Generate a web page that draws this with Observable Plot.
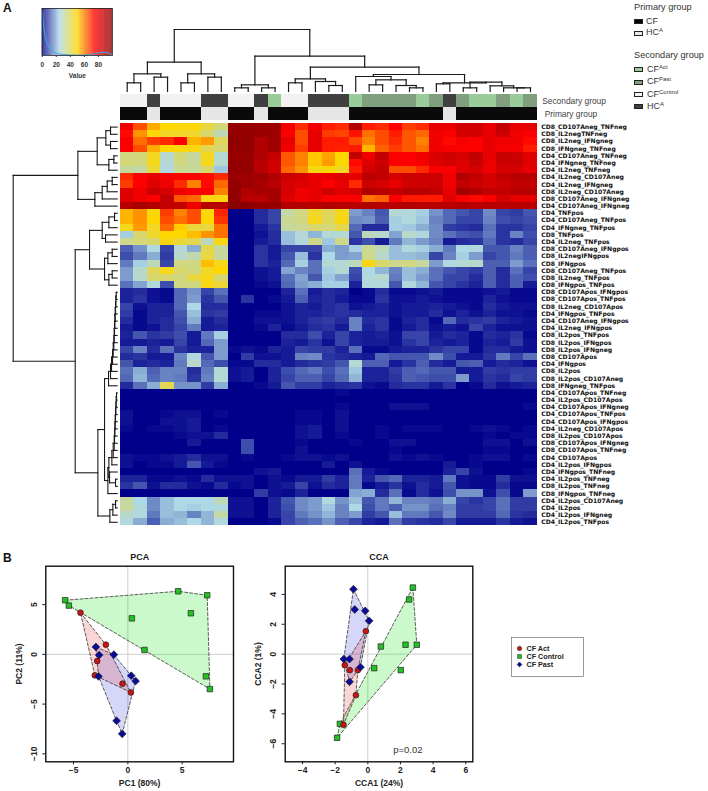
<!DOCTYPE html>
<html><head><meta charset="utf-8">
<script src="https://cdn.jsdelivr.net/npm/d3@7"></script>
<script src="https://cdn.jsdelivr.net/npm/@observablehq/plot@0.6"></script>
<style>
html,body{margin:0;padding:0;background:#fff;}
#page{position:relative;width:708px;height:791px;overflow:hidden;font-family:"Liberation Sans",Arial,sans-serif;color:#222;}
.p{position:absolute;}
.p svg{overflow:visible;display:block;}
.t{position:absolute;white-space:nowrap;line-height:1;}
.t sup{font-size:6px;line-height:0;vertical-align:3px;}
.sw{position:absolute;width:9px;height:5px;border:1px solid #222;box-sizing:border-box;}
.soft g[aria-label="cell"]{filter:blur(0.5px);}
</style></head><body><div id="page"></div>
<script>
const rowNames=["CD8_CD107Aneg_TNFneg","CD8_IL2negTNFneg","CD8_IL2neg_IFNgneg","CD8_IFNgneg_TNFneg","CD4_CD107Aneg_TNFneg","CD4_IFNgneg_TNFneg","CD4_IL2neg_TNFneg","CD4_IL2neg_CD107Aneg","CD4_IL2neg_IFNgneg","CD8_IL2neg_CD107Aneg","CD8_CD107Aneg_IFNgneg","CD4_CD107Aneg_IFNgneg","CD4_TNFpos","CD4_CD107Aneg_TNFpos","CD4_IFNgneg_TNFpos","CD8_TNFpos","CD4_IL2neg_TNFpos","CD8_CD107Aneg_IFNgpos","CD8_IL2negIFNgpos","CD8_IFNgpos","CD8_CD107Aneg_TNFpos","CD8_IL2neg_TNFpos","CD8_IFNgpos_TNFpos","CD8_CD107Apos_IFNgpos","CD8_CD107Apos_TNFpos","CD8_IL2neg_CD107Apos","CD4_IFNgpos_TNFpos","CD4_CD107Aneg_IFNgpos","CD4_IL2neg_IFNgpos","CD8_IL2pos_TNFpos","CD8_IL2pos_IFNgpos","CD8_IL2pos_IFNgneg","CD8_CD107Apos","CD4_IFNgpos","CD8_IL2pos","CD8_IL2pos_CD107Aneg","CD8_IFNgneg_TNFpos","CD4_CD107Apos_TNFneg","CD4_IL2pos_CD107Apos","CD4_CD107Apos_IFNgneg","CD4_CD107Apos_TNFpos","CD4_CD107Apos_IFNgpos","CD4_IL2neg_CD107Apos","CD8_IL2pos_CD107Apos","CD8_CD107Apos_IFNgneg","CD8_CD107Apos_TNFneg","CD4_CD107Apos","CD4_IL2pos_IFNgpos","CD4_IFNgpos_TNFneg","CD4_IL2pos_TNFneg","CD8_IL2pos_TNFneg","CD8_IFNgpos_TNFneg","CD4_IL2pos_CD107Aneg","CD4_IL2pos","CD4_IL2pos_IFNgneg","CD4_IL2pos_TNFpos"];
const highRows=[
[78,66,55,50,49,49,43,37,98,97,97,96,78,70,78,72,70,92,72,70,75,68,70,80,80,85,85,80,88,80,80],
[74,58,49,46,46,45,38,30,98,98,97,96,76,66,80,68,67,73,62,66,72,65,63,78,76,84,84,80,86,78,76],
[76,62,68,70,75,54,57,40,99,98,92,96,80,66,80,72,72,66,60,66,70,65,60,78,74,77,75,80,78,78,74],
[76,66,55,50,49,48,41,38,98,98,92,96,78,68,80,72,71,72,54,64,68,65,62,78,77,76,75,80,77,77,72],
[36,37,46,28,37,33,47,27,97,97,92,88,65,60,52,56,50,88,78,88,76,76,78,83,85,84,88,80,87,86,82],
[37,36,47,27,36,33,47,28,98,98,90,85,65,60,52,57,50,74,82,86,76,75,77,82,84,82,87,79,86,86,82],
[33,32,44,26,34,33,38,23,98,98,90,85,63,58,48,50,46,72,84,88,66,66,70,76,76,82,84,78,84,84,80],
[70,76,80,77,76,76,74,70,97,96,95,92,86,84,80,80,82,80,90,88,84,86,86,86,78,92,88,84,88,90,90],
[68,75,82,78,70,60,74,63,98,96,94,90,84,82,80,76,80,70,86,84,80,85,85,86,78,88,86,84,86,88,88],
[82,78,86,84,78,76,76,60,98,92,94,94,84,78,80,85,82,84,92,90,88,90,90,88,80,95,92,88,88,90,90],
[82,78,75,88,65,63,48,48,98,90,90,94,82,78,80,76,76,76,62,64,76,72,72,72,82,76,74,76,84,80,80],
[90,94,92,88,88,78,90,90,100,100,98,98,92,92,90,92,90,90,92,90,90,92,90,90,90,92,90,90,90,90,90]];
const midRows=[
[54,58,49,68,60,66,49,71,0,0,5,8,32,36,45,40,47,18,15,10,27,26,24,17,12,10,8,16,8,7,10],
[54,58,50,66,62,66,50,69,0,0,5,8,34,36,47,40,48,16,17,11,24,26,23,15,12,8,8,15,9,8,9],
[47,57,46,63,51,44,43,62,0,0,3,6,33,34,38,37,42,12,5,5,24,23,20,16,7,6,5,13,6,6,8],
[24,38,45,50,50,53,58,62,0,0,2,5,22,27,21,27,27,10,30,28,19,28,26,16,13,10,9,14,6,15,9],
[35,37,38,48,44,41,30,48,0,0,3,5,22,26,35,23,35,6,9,3,14,21,18,15,3,5,6,12,6,5,8],
[11,17,26,8,27,20,42,33,0,0,6,3,8,8,8,20,18,24,34,30,22,26,24,20,14,25,26,10,10,15,11],
[9,14,20,7,28,31,43,33,0,0,6,3,10,22,6,25,18,19,35,28,22,22,21,8,15,24,18,8,10,14,11],
[14,24,30,8,36,36,53,47,0,0,6,4,12,24,13,27,27,30,48,38,35,36,33,18,26,27,28,11,11,18,13],
[18,28,40,47,38,36,46,50,0,0,2,3,19,15,13,24,27,9,25,21,15,22,20,13,10,8,7,11,5,13,8],
[18,28,38,38,36,43,47,38,0,0,2,3,13,19,10,23,19,8,26,28,14,22,18,13,8,8,5,11,5,11,9],
[13,19,26,9,36,36,48,44,0,0,1,2,12,18,20,24,24,4,26,26,10,26,21,10,8,6,4,11,5,11,3]];
const lowRows=[
[4,5,2,1,12,17,8,13,0,0,0,0,4,13,3,5,4,0,1,5,1,1,2,3,1,1,1,2,3,1,1],
[4,6,2,1,12,18,6,10,0,6,0,1,3,11,4,5,3,1,1,6,2,2,3,2,1,1,1,4,2,1,1],
[8,2,4,4,12,25,5,5,0,0,0,0,2,4,3,5,6,2,3,4,2,3,3,4,3,2,1,5,3,2,2],
[7,1,4,4,10,22,6,7,0,0,1,1,2,4,4,5,6,5,4,4,2,3,3,5,2,4,2,4,2,2,1],
[5,1,4,5,9,20,3,5,0,0,2,2,2,4,6,7,5,15,5,6,1,4,5,1,12,5,6,7,4,3,2],
[3,1,2,5,8,14,3,4,0,0,1,4,1,3,5,6,3,15,4,6,1,3,5,2,3,2,8,4,2,2,2],
[4,10,6,7,9,3,14,24,0,0,0,0,5,5,9,4,8,4,3,4,2,8,8,3,5,4,1,5,4,6,1],
[3,3,4,3,8,3,12,18,0,0,0,0,4,3,6,2,8,4,3,3,2,6,8,4,3,4,1,4,3,7,2],
[8,15,5,13,6,4,4,18,1,2,1,4,3,8,7,7,4,13,1,1,3,4,4,6,8,8,1,5,5,3,2],
[5,6,3,3,15,26,10,18,0,7,2,2,3,15,16,6,5,4,3,12,10,10,10,16,9,3,3,6,14,8,13],
[10,4,5,4,14,28,12,9,1,1,5,5,3,5,6,7,10,27,11,11,3,6,11,5,3,10,11,3,5,4,2],
[13,20,11,15,15,5,14,27,2,3,0,4,9,12,14,9,13,23,4,4,7,11,12,10,10,3,3,7,6,7,7],
[12,21,12,15,14,6,15,27,2,3,0,4,8,11,11,8,12,21,4,4,6,11,10,9,9,18,3,6,5,8,7],
[5,13,20,41,17,17,7,20,0,0,1,3,10,7,7,4,5,6,2,1,5,6,6,3,6,0,1,5,2,3,4]];
const zeroRows=[
[0,0,0,0,0,0,0,0,0,0,0,0,0,0,0,0,1,0,0,0,0,0,0,0,0,0,0,0,0,0,0],
[0,0,0,0,0,0,0,0,0,0,0,0,0,0,0,0,0,0,0,0,0,0,0,0,0,0,0,0,0,0,0],
[0,0,0,0,0,0,0,0,0,0,0,0,0,0,0,0,1,0,0,0,2,2,2,0,0,0,0,0,0,0,1],
[2,0,0,1,2,2,0,1,0,0,0,0,0,1,1,0,2,0,0,0,0,0,0,0,0,0,0,0,0,0,0],
[2,0,0,2,2,3,0,0,0,0,0,0,0,1,1,0,2,0,0,0,0,0,0,0,0,0,0,0,0,0,0],
[1,0,1,1,2,3,0,1,0,0,0,0,0,2,3,0,2,0,0,1,0,1,1,1,0,0,1,2,1,0,1],
[0,0,0,0,1,2,2,5,0,0,0,0,0,2,3,0,1,0,0,1,0,0,0,0,0,0,0,1,0,1,1],
[0,0,0,0,0,3,0,0,0,9,0,0,0,1,0,0,0,1,0,0,2,2,0,0,0,0,0,2,2,0,2],
[0,0,0,0,0,0,0,0,0,9,0,0,0,2,0,0,0,0,0,0,1,0,0,0,0,0,0,1,1,0,0],
[2,1,1,2,3,5,2,2,0,1,0,0,1,2,2,1,2,0,0,0,2,1,2,1,0,0,1,2,2,0,1],
[2,0,1,1,3,10,3,1,0,0,0,0,0,0,0,3,0,2,0,0,0,0,0,0,3,0,1,0,0,0,0],
[0,0,0,0,0,0,0,0,0,0,2,3,0,0,0,0,0,13,3,1,0,0,0,0,4,8,2,0,0,0,1],
[4,4,1,1,2,1,5,2,2,2,0,2,1,3,3,7,4,14,4,10,12,4,4,3,14,2,1,1,7,2,2],
[6,10,2,5,5,2,1,5,1,2,0,2,3,8,2,5,4,14,1,3,6,2,5,3,10,2,1,1,5,1,1],
[0,0,0,0,0,0,0,0,0,0,7,2,1,4,0,0,0,19,20,5,13,1,5,2,9,17,17,2,9,1,18]];
const il2Rows=[
[33,25,16,22,25,25,25,30,2,2,0,4,10,16,18,26,17,22,10,14,21,15,15,14,20,8,6,8,13,7,7],
[33,26,16,22,25,24,25,26,2,2,0,4,9,16,18,23,15,25,9,14,11,17,17,13,15,7,7,8,13,7,7],
[28,26,14,22,21,15,21,32,2,2,0,4,8,14,17,21,15,18,7,10,22,14,14,10,16,7,7,7,12,6,5],
[26,20,11,20,22,25,21,26,0,0,0,1,8,11,13,17,11,8,4,3,13,7,6,5,8,3,3,3,6,3,2]];

const secondaryGroup=["CFControl","CFControl","HCA","CFControl","CFControl","CFControl","HCA","HCA","CFControl","CFControl","HCA","CFAct","CFControl","CFControl","HCA","HCA","HCA","CFAct","CFPast","CFPast","CFPast","CFPast","CFAct","CFPast","HCA","CFPast","CFAct","CFAct","CFPast","CFAct","CFPast"];
const primaryGroup=secondaryGroup.map(g=>g==="HCA"?"HCA":"CF");
const secondaryColors={CFControl:"#f2f2f2",HCA:"#404040",CFAct:"#99cc99",CFPast:"#7f9f7f"};
const primaryColors={CF:"#0a0a0a",HCA:"#e6e6e6"};

// dendrograms: [merge height, left, right]; a bare number is a leaf index
const cascade=(first,heights)=>heights.reduce((n,h,i)=>[h,n,first+i+1],first);
const colTree=[186,
 [88,[53,[26,0,1],[43,2,3]],[53,[26,4,5],[43,6,7]]],
 [106,[20,[11,8,9],[11,10,11]],
  [73,[38,[26,12,13],[30,14,[18,15,16]]],
   [51,[45,17,[35,[20,18,19],[18,20,[11,21,22]]]],
    [26,[23,23,24],[28,[11,25,26],[17,27,[11,28,[11,29,30]]]]]]]]];
const rowTree=[312,
 [118,[60,[34,[20,0,1],[20,2,3]],[25,[10,4,5],6]],[67,[45,[30,[15,7,8],9],10],11]],
 [126,
  [83,[45,[25,[8,12,13],14],[35,15,16]],[38,[28,[15,17,18],19],[25,[15,20,21],22]]],
  [58,
   [38,cascade(23,[3,4,5,6,7,8,9,10,12,14,17,20,26]),
    [28,[25,cascade(37,[2,3,4,5,6,7,8,9,12,16]),[23,48,[5,49,50]]],51]],
   [22,[13,[5,52,53],54],55]]]];

const keyX=[0.5,1.5,3,5,7,10,13,17,22,30,40,50,60,68,75,82,90,95,99.5];
const keyDensity=[0.95,0.7,0.5,0.36,0.26,0.17,0.11,0.07,0.04,0.02,0.01,0.01,0.01,0.02,0.04,0.06,0.07,0.05,0.02];

// scatter panels
const pcaAct=[[-4.36,4.19],[-2.02,0.97],[-2.82,-0.67],[-3.04,-2.11],[-0.49,-2.95],[0.28,-3.83]];
const pcaControl=[[-5.77,5.44],[-5.43,4.90],[4.63,6.34],[7.30,5.94],[5.80,4.13],[0.37,3.62],[1.53,0.44],[7.18,-2.21],[7.55,-3.49]];
const pcaPast=[[-2.94,0.74],[-2.64,-0.07],[-1.29,-0.03],[0.31,-2.15],[0.71,-2.68],[-2.70,-2.21],[-1.04,-6.68],[-0.52,-7.99]];
const pcaHulls={act:[0,1,5,3],control:[0,2,3,8,1],past:[0,2,4,7,6,5]};
const ccaAct=[[-0.12,1.54],[-1.41,-0.74],[-1.10,-1.07],[-0.61,-1.07],[-0.73,-2.75],[-1.49,-4.73]];
const ccaControl=[[2.76,4.46],[2.53,3.66],[0.80,0.51],[2.31,0.63],[3.00,0.63],[0.39,-0.94],[2.02,-1.07],[-1.71,-4.67],[-1.88,-5.60]];
const ccaPast=[[-0.88,4.35],[-0.80,2.99],[-0.16,2.90],[0.08,2.23],[-1.47,-0.33],[-1.12,-0.33],[-0.45,-0.87],[-1.12,-1.85]];
const ccaHulls={act:[0,3,4,5,1],control:[0,4,8,7],past:[0,3,6,7,4]};
const legendNames=["CF Act","CF Control","CF Past"];

const FONT='"Liberation Sans",Arial,sans-serif';
const heatColor={type:"linear",domain:[0,25,50,75,100],range:["#00008b","#add8e6","#ffd700","#ff0000","#8b0000"],interpolate:"rgb"};
const page=document.getElementById("page");
function put(svg,left,top,cls){const d=document.createElement("div");d.className="p"+(cls?" "+cls:"");d.style.left=left+"px";d.style.top=top+"px";d.appendChild(svg);page.appendChild(d);}
function text(html,left,top,size,extra=""){const d=document.createElement("div");d.className="t";d.style.cssText=`left:${left}px;top:${top}px;font-size:${size}px;${extra}`;d.innerHTML=html;page.appendChild(d);}
function swatch(left,top,color){const d=document.createElement("div");d.className="sw";d.style.left=left+"px";d.style.top=top+"px";d.style.background=color;page.appendChild(d);}
const style={fontFamily:FONT,background:"transparent",overflow:"visible"};

function tree(node,out){
  if(typeof node==="number") return {p:node,h:0};
  const [h,a,b]=node, l=tree(a,out), r=tree(b,out);
  out.push({p1:l.p,h1:l.h,p2:l.p,h2:h},{p1:r.p,h1:r.h,p2:r.p,h2:h},{p1:l.p,h1:h,p2:r.p,h2:h});
  return {p:(l.p+r.p)/2,h};
}

// colour key
put(Plot.plot({width:100,height:78,marginLeft:1.7,marginRight:28,marginTop:8,marginBottom:23,style:{...style,fontSize:"6.5px"},
  x:{domain:[0,100],axis:null},y:{domain:[0,1],axis:null},color:heatColor,
  marks:[
    Plot.rect(d3.range(0,100),{x1:d=>d,x2:d=>d+1,y1:0,y2:1,fill:d=>d}),
    Plot.line(keyX.map((x,i)=>[x,keyDensity[i]]),{x:"0",y:"1",stroke:"#3ea6ea",strokeWidth:1}),
    Plot.frame({stroke:"#222",strokeWidth:0.8}),
    Plot.axisX({ticks:[0,20,40,60,80],tickSize:2,tickPadding:5,label:"Value",labelAnchor:"center",labelArrow:"none",labelOffset:22,fontWeight:"bold",color:"#333"})
  ]}),40,0);

// column dendrogram
const colSegs=[];tree(colTree,colSegs);
put(Plot.plot({width:417,height:68,margin:0,style,
  x:{domain:[-0.5,30.5],range:[0,416.7],axis:null},y:{domain:[0,186],range:[66,4],axis:null},
  marks:[Plot.link(colSegs,{x1:"p1",y1:"h1",x2:"p2",y2:"h2",stroke:"#1a1a1a",strokeWidth:1.2,strokeLinecap:"square"})]}),120,25);

// row dendrogram
const rowSegs=[];tree(rowTree,rowSegs);
put(Plot.plot({width:120,height:403,margin:0,style,
  x:{domain:[0,312],range:[116.7,12.7],axis:null},y:{domain:[-0.5,55.5],range:[0,402.4],axis:null},
  marks:[Plot.link(rowSegs,{x1:"h1",y1:"p1",x2:"h2",y2:"p2",stroke:"#1a1a1a",strokeWidth:1.1,strokeLinecap:"square"})]}),0,123.3);

// annotation tracks
const trackCells=secondaryGroup.flatMap((g,i)=>[{col:i,track:"Secondary group",color:secondaryColors[g]},{col:i,track:"Primary group",color:primaryColors[primaryGroup[i]]}]);
put(Plot.plot({width:588,height:26.4,marginLeft:0,marginRight:171.3,marginTop:0,marginBottom:0,style:{...style,fontSize:"8.4px"},
  x:{domain:d3.range(31),padding:0,round:false,axis:null},y:{domain:["Secondary group","Primary group"],padding:0,round:false,axis:null},
  marks:[
    Plot.cell(trackCells,{x:"col",y:"track",fill:d=>d.color,shapeRendering:"crispEdges"}),
    Plot.text(["Secondary group"],{y:d=>d,frameAnchor:"right",textAnchor:"start",dx:5,fill:"#444"}),
    Plot.text(["Primary group"],{y:d=>d,frameAnchor:"right",textAnchor:"start",dx:7.5,fill:"#444"})
  ]}),120,93.7);

// heat map
const allRows=[...highRows,...midRows,...lowRows,...zeroRows,...il2Rows];
const cells=allRows.flatMap((r,i)=>r.map((v,j)=>({row:rowNames[i],col:j,v})));
put(Plot.plot({width:588,height:402.4,marginLeft:0,marginRight:171.3,marginTop:0,marginBottom:0,style:{...style,fontFamily:'"DejaVu Sans",sans-serif',fontSize:"6.1px"},
  x:{domain:d3.range(31),padding:0,round:false,axis:null},y:{domain:rowNames,padding:0,round:false,axis:null},color:heatColor,
  marks:[
    Plot.cell(cells,{x:"col",y:"row",fill:"v",shapeRendering:"crispEdges"}),
    Plot.axisY(rowNames,{anchor:"right",tickSize:0,tickPadding:4,label:null,fontWeight:"bold",color:"#111"})
  ]}),120,123.3,"soft");

// scatter panels
function panel(o){
  const hull=(pts,idx,color)=>Plot.line(idx.map(i=>pts[i]),{x:"0",y:"1",curve:"linear-closed",fill:color,fillOpacity:0.2,stroke:"#333",strokeWidth:0.8,strokeDasharray:"3,2"});
  const dots=(pts,symbol,fill,r)=>Plot.dot(pts,{x:"0",y:"1",symbol,fill,stroke:"#222",strokeWidth:0.7,r});
  return Plot.plot({width:250,height:251,marginLeft:o.ml,marginRight:o.mr,marginTop:25.7,marginBottom:29.7,style:{...style,fontSize:"8.5px"},
    x:{domain:o.xd},y:{domain:o.yd},
    marks:[
      Plot.ruleX([0],{stroke:"#cfcfcf"}),Plot.ruleY([0],{stroke:"#cfcfcf"}),
      hull(o.control,o.hulls.control,"#00e000"),hull(o.past,o.hulls.past,"#3030e0"),hull(o.act,o.hulls.act,"#e03030"),
      dots(o.control,"square","#22c022",3.1),dots(o.act,"circle","#c81414",2.9),dots(o.past,"diamond2","#0a0a9a",3.5),
      Plot.frame({stroke:"#111",strokeWidth:1.4}),
      Plot.axisX({ticks:o.xt,tickSize:3,tickPadding:2,label:o.xl,labelAnchor:"center",labelArrow:"none",labelOffset:24,fontWeight:"bold",color:"#222"}),
      Plot.axisY({ticks:o.yt,tickSize:3,tickPadding:6,tickRotate:-90,label:o.yl,labelAnchor:"center",labelArrow:"none",labelOffset:o.lo,fontWeight:"bold",color:"#222"}),
      Plot.text([o.title],{frameAnchor:"top",dy:-13,fontWeight:"bold",fontSize:9,fill:"#222"}),
      ...(o.extra||[])
    ]});
}
put(panel({ml:45.3,mr:17,xd:[-7.55,9.72],yd:[-10.8,8.86],xt:[-5,0,5],yt:[-10,-5,0,5],xl:"PC1 (80%)",yl:"PC2 (11%)",lo:30,title:"PCA",act:pcaAct,control:pcaControl,past:pcaPast,hulls:pcaHulls}),0,540);
put(panel({ml:44.7,mr:17.7,xd:[-5.06,6.43],yd:[-7.21,5.89],xt:[-4,-2,0,2,4,6],yt:[-6,-4,-2,0,2,4],xl:"CCA1 (24%)",yl:"CCA2 (1%)",lo:30,title:"CCA",act:ccaAct,control:ccaControl,past:ccaPast,hulls:ccaHulls,
  extra:[Plot.text(["p=0.02"],{x:2.45,y:-6.4,fontSize:9.5,fill:"#333"})]}),240,540);

// group legend for the scatter panels
const legSym=["circle","square","diamond2"],legFill=["#c81414","#22c022","#0a0a9a"];
put(Plot.plot({width:72,height:39,margin:0,style:{...style,fontSize:"7.2px"},
  x:{axis:null},y:{domain:legendNames,range:[10,27],padding:0,axis:null},
  marks:[
    Plot.frame({stroke:"#555",strokeWidth:0.6}),
    ...legendNames.map((n,i)=>Plot.dot([n],{y:d=>d,frameAnchor:"left",dx:8,symbol:legSym[i],fill:legFill[i],stroke:"#222",strokeWidth:0.5,r:2.2})),
    Plot.text(legendNames,{y:d=>d,frameAnchor:"left",dx:15,textAnchor:"start",fontWeight:"bold",fill:"#222"})
  ]}),511,637);

// panel letters and heat map legends
text("A",3,2,12,"font-weight:bold;color:#111");
text("B",3,552,12,"font-weight:bold;color:#111");
text("Primary group",634,3,9.2,"color:#333");
swatch(634,19,"#000");text("CF",646,17,9,"color:#333");
swatch(634,31,"#e6e6e6");text("HC<sup>A</sup>",646,28,9,"color:#333");
text("Secondary group",634,51,9.2,"color:#333");
swatch(634,67,"#99cc99");text("CF<sup>Act</sup>",647,65,9,"color:#333");
swatch(634,80,"#7f9f7f");text("CF<sup>Past</sup>",647,77,9,"color:#333");
swatch(634,92,"#f2f2f2");text("CF<sup>Control</sup>",647,90,9,"color:#333");
swatch(634,104,"#404040");text("HC<sup>A</sup>",647,102,9,"color:#333");
</script></body></html>
